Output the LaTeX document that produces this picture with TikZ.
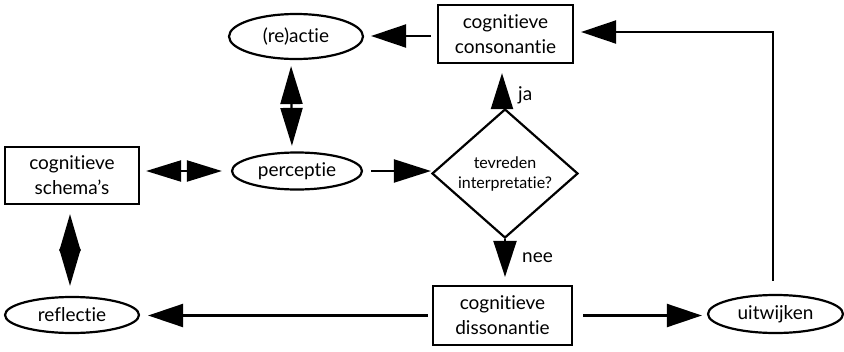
\documentclass[tikz,border=0pt]{standalone}
\usepackage{fontspec}
\setmainfont{Lato}[Ligatures={NoCommon,NoRequired,NoContextual,NoRare}]
\usetikzlibrary{shapes.geometric,arrows.meta}

\tikzset{
  base/.style={draw, line width=2.2pt, inner sep=0pt, align=center,
               font=\fontsize{19}{25}\selectfont},
  box/.style={base, rectangle},
  oval/.style={base, ellipse},
  choice/.style={base, diamond, font=\fontsize{16}{20}\selectfont},
  conn/.style={line width=2.2pt, -{Triangle[length=35pt,width=23pt]}},
  both/.style={line width=2.2pt,
     {Triangle[length=38pt,width=22pt]}-{Triangle[length=38pt,width=22pt]}},
  lbl/.style={font=\fontsize{19}{22}\selectfont, inner sep=0pt}
}

\begin{document}
\begin{tikzpicture}[x=1pt,y=-1pt]
  \path[use as bounding box] (0,0) rectangle (844,351);

  % nodes
  \node[oval, minimum width=134pt, minimum height=45pt] (react) at (296,36.5) {(re)actie};
  \node[box, minimum width=135pt, minimum height=58pt] (cons) at (505.5,34) {cognitieve\\consonantie};
  \node[box, minimum width=134pt, minimum height=57pt] (schema) at (72,175.5) {cognitieve\\schema's};
  \node[oval, minimum width=130pt, minimum height=37pt] (perc) at (297,171) {perceptie};
  \node[choice, minimum width=146pt, minimum height=129pt] (tev) at (505,173.5) {tevreden\\interpretatie?};
  \node[box, minimum width=139pt, minimum height=59pt] (diss) at (502.5,315.5) {cognitieve\\dissonantie};
  \node[oval, minimum width=134pt, minimum height=36pt] (refl) at (72,315) {reflectie};
  \node[oval, minimum width=135pt, minimum height=38pt] (uitw) at (775.5,314) {uitwijken};

  % labels on the decision branches
  \node[lbl, anchor=west] (ja) at (518,95) {ja};
  \node[lbl, anchor=west] (nee) at (522,258) {nee};

  % connectors
  \draw[conn, shorten <=6pt, shorten >=7pt]
    ([yshift=-2pt]cons.west) -- ([yshift=-2pt]cons.west -| react.east);
  \draw[both, shorten <=6pt, shorten >=5.5pt]
    ([xshift=-5pt]react.south) -- ([xshift=-5pt]perc.north);
  \draw[line width=2.2pt,
     {Triangle[length=35pt,width=21pt]}-{Triangle[length=35pt,width=21pt]},
     shorten <=6pt, shorten >=9pt]
    (schema.east |- perc.west) -- (perc.west);
  \draw[conn, -{Triangle[length=37pt,width=23pt]}, shorten <=8pt]
    (perc.east) -- (perc.east -| tev.west);
  \draw[conn, -{Triangle[length=36pt,width=22pt]}, shorten >=9pt]
    ([xshift=-3pt]tev.north) -- ([xshift=-3pt]tev.north |- cons.south);
  \draw[conn, -{Triangle[length=36pt,width=23pt]}, shorten >=8pt]
    (tev.south) -- (tev.south |- diss.north);
  \draw[line width=2.2pt,
     {Triangle[length=37pt,width=21pt]}-{Triangle[length=37pt,width=21pt]},
     shorten <=9pt, shorten >=10pt]
    ([xshift=-2pt]schema.south) -- ([xshift=-2pt]refl.north);
  \draw[conn, shorten <=4pt, shorten >=8pt] (diss.west) -- (diss.west -| refl.east);
  \draw[conn, shorten <=10pt, shorten >=5pt] (diss.east) -- (diss.east -| uitw.west);
  \coordinate (corner) at (773,32);
  \draw[conn, shorten <=13pt, shorten >=7pt]
    ([xshift=-2.5pt]uitw.north) -- (corner) -- (corner -| cons.east);
\end{tikzpicture}
\end{document}
